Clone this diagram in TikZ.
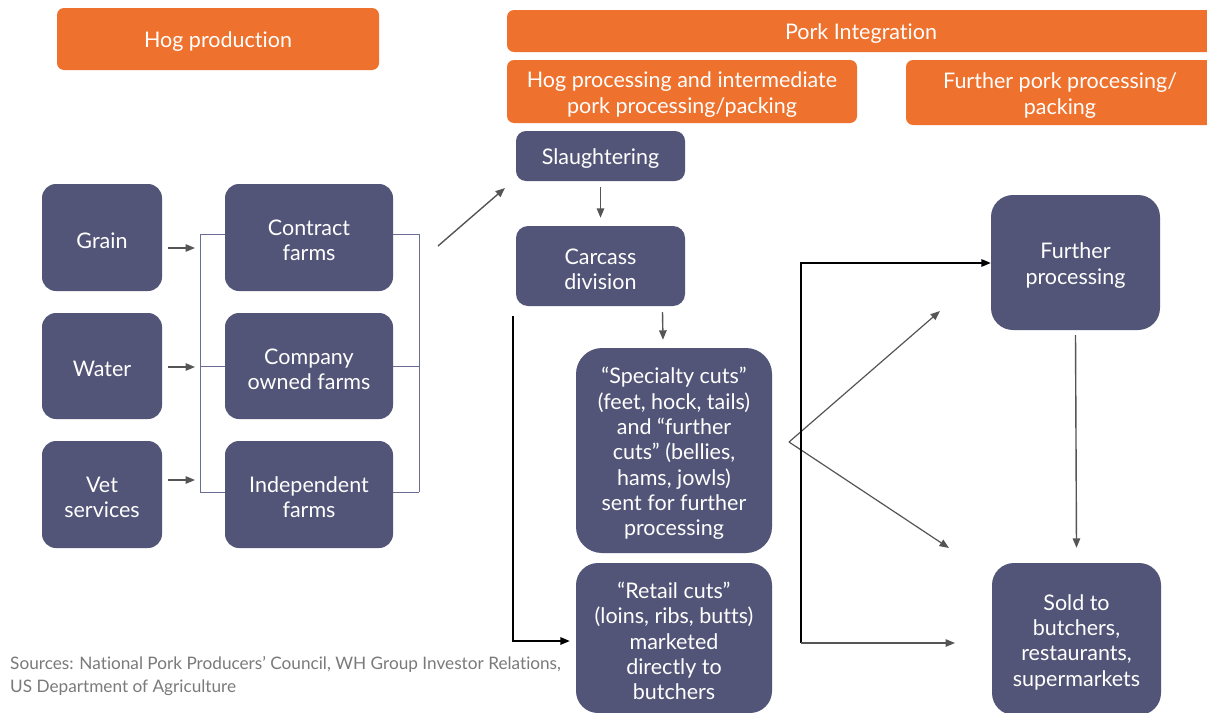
\documentclass[tikz,border=0pt]{standalone}
\usepackage{fontspec}
\setmainfont{Lato}[Ligatures=CommonOff]
\usetikzlibrary{arrows.meta,calc}
\definecolor{slate}{HTML}{525577}
\definecolor{orng}{HTML}{EE722E}
\definecolor{arrgray}{HTML}{555555}
\definecolor{brk}{HTML}{6A6E96}
\definecolor{srcgray}{HTML}{7A7A7A}
\newcommand{\bxnode}[6]{%
  \node[#1,minimum width=#4pt,minimum height=#5pt] (#2) at (#3) {};
  \node[txt] (#2-t) at ([yshift=-3pt]#2.center) {#6};}
\begin{document}
\begin{tikzpicture}[x=1pt,y=-1pt,
  box/.style={fill=slate,rounded corners=14pt,inner sep=0pt},
  hdr/.style={fill=orng,rounded corners=7pt,inner sep=0pt},
  txt/.style={text=white,align=center,inner sep=0pt,font=\fontsize{21.5}{25.3}\selectfont},
  arr/.style={draw=arrgray,line width=1.4pt,-{Triangle[length=9.5pt,width=7.5pt]}},
  barr/.style={draw=black,line width=1.6pt,-{Triangle[length=9.5pt,width=7.5pt]}},
  brkline/.style={draw=brk,line width=0.9pt}]
\useasboundingbox (0,0) rectangle (1207,712);
\fill[white] (0,0) rectangle (1207,712);
% bracket coordinates
\coordinate (bl1) at (200,234);
\coordinate (bl2) at (200,366);
\coordinate (bl3) at (200,492);
\coordinate (br1) at (419,234);
\coordinate (br2) at (419,366);
\coordinate (br3) at (419,492);
% headers
\bxnode{hdr}{hogprod}{218,39}{322}{62}{Hog production}
\bxnode{hdr}{porkint}{861,31}{708}{42}{Pork Integration}
\bxnode{hdr}{hogproc}{682,91.5}{350}{63}{Hog processing and intermediate\\pork processing/packing}
\bxnode{hdr}{furtherpork}{1060,92.5}{308}{65}{Further pork processing/\\packing}
% boxes
\bxnode{box}{grain}{102,237.5}{120}{107}{Grain}
\bxnode{box}{water}{102,366}{120}{106}{Water}
\bxnode{box}{vet}{102,494.5}{120}{107}{Vet\\services}
\draw[brkline] (bl1) -- (bl3);
\draw[brkline] (br1) -- (br3);
\bxnode{box}{contract}{309,237.5}{168}{107}{Contract\\farms}
\bxnode{box}{company}{309,366}{168}{106}{Company\\owned farms}
\bxnode{box}{indep}{309,494.5}{168}{107}{Independent\\farms}
\draw[brkline] (bl1) -- (contract.west |- bl1);
\draw[brkline] (bl2) -- (company.west |- bl2);
\draw[brkline] (bl3) -- (indep.west |- bl3);
\draw[brkline] (contract.east |- br1) -- (br1);
\draw[brkline] (company.east |- br2) -- (br2);
\draw[brkline] (indep.east |- br3) -- (br3);
\bxnode{box,rounded corners=10pt}{slaughter}{600.5,156}{169}{50}{Slaughtering}
\bxnode{box,rounded corners=12pt}{carcass}{600.5,266}{169}{80}{Carcass\\division}
\bxnode{box,rounded corners=26pt}{specialty}{674,450.5}{196}{205}{“Specialty cuts”\\(feet, hock, tails)\\and “further\\cuts” (bellies,\\hams, jowls)\\sent for further\\processing}
\bxnode{box,rounded corners=22pt}{retail}{674,638}{196}{150}{“Retail cuts”\\(loins, ribs, butts)\\marketed\\directly to\\butchers}
\bxnode{box,rounded corners=22pt}{furtherproc}{1075.5,262.5}{169}{135}{Further\\processing}
\bxnode{box,rounded corners=22pt}{sold}{1076.5,639}{169}{152}{Sold to\\butchers,\\restaurants,\\supermarkets}
% small arrows into bracket
\coordinate (ga) at (168,248); \coordinate (gb) at (195,248);
\coordinate (wa) at (168,367); \coordinate (wb) at (195,367);
\coordinate (va) at (168,480); \coordinate (vb) at (195,480);
\draw[arr] (ga) -- (gb);
\draw[arr] (wa) -- (wb);
\draw[arr] (va) -- (vb);
% to slaughtering
\coordinate (d1) at (438,246); \coordinate (d2) at (505,188);
\draw[arr] (d1) -- (d2);
\draw[arr] ([yshift=-6pt]slaughter.south) -- ([yshift=8pt]carcass.north);
\draw[arr] ($(carcass.south)+(62,6)$) -- ($(specialty.north)+(-11,-8)$);
% black elbow to retail
\coordinate (e1) at (513,316); \coordinate (e2) at (513,641);
\draw[barr] (e1) -- (e2) -- ([xshift=-6pt]retail.west |- e2);
% branch from specialty
\coordinate (v) at (789,442);
\coordinate (t1) at (940,311);
\coordinate (t2) at (949,548);
\draw[arr,line width=1.2pt] (v) -- (t1);
\draw[arr,line width=1.2pt] (v) -- (t2);
% black elbow right
\coordinate (f1) at (801,643);
\coordinate (f2) at (955,643);
\draw[barr] (f1) |- (furtherproc.west |- 0,263);
\draw[arr] (f1) -- (f2);
\draw[arr] ([yshift=-5pt]furtherproc.south) -- ([yshift=15pt]sold.north);
% sources
\node[anchor=north west,align=left,text=srcgray,inner sep=0pt,font=\fontsize{17.2}{23}\selectfont] (src) at (10,656) {Sources: National Pork Producers’ Council, WH Group Investor Relations,\\US Department of Agriculture};
\end{tikzpicture}
\end{document}
